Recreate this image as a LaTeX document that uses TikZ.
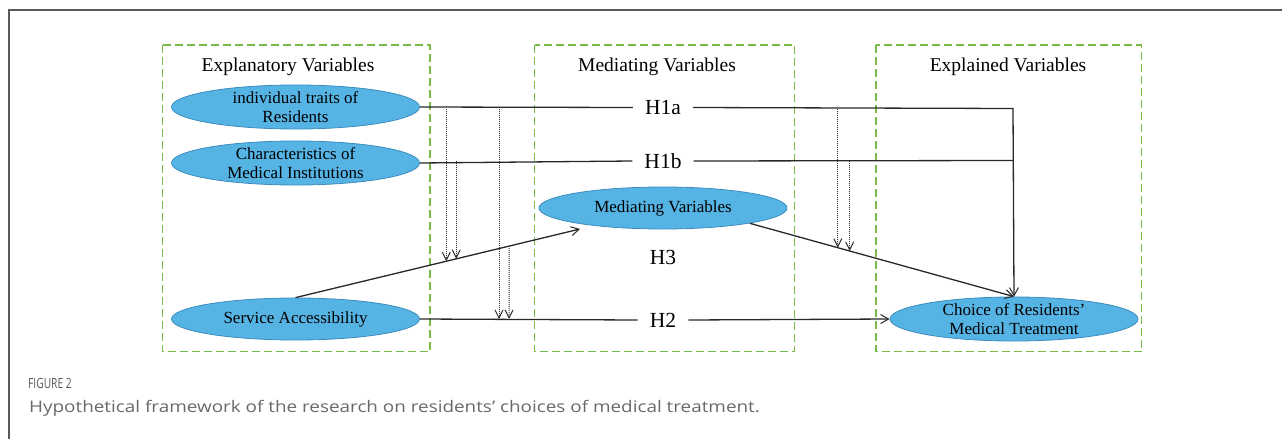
\documentclass[tikz,border=0pt]{standalone}
\usepackage{fontspec}
\setmainfont{Liberation Serif}
\newfontfamily\capfont[FakeStretch=1.18]{Open Sans}
\newfontfamily\figfont[FakeStretch=0.73]{Open Sans}
\usetikzlibrary{shapes.geometric,arrows.meta,calc}
\definecolor{ellfill}{RGB}{86,180,228}
\definecolor{elldraw}{RGB}{60,140,190}
\definecolor{boxgreen}{RGB}{122,186,70}
\definecolor{linegray}{RGB}{40,40,40}
\definecolor{capgray}{RGB}{105,105,105}
\begin{document}
\begin{tikzpicture}[x=1pt,y=-1pt,
  groupbox/.style={draw=boxgreen,line width=1.2pt,dash pattern=on 8pt off 4pt},
  grouptitle/.style={font=\fontsize{19.5}{23}\selectfont,anchor=center},
  ellnode/.style={ellipse,draw=elldraw,line width=0.8pt,fill=ellfill,minimum width=248pt,minimum height=42pt,inner sep=0pt,align=center,font=\fontsize{17}{19}\selectfont},
  hlabel/.style={font=\fontsize{21.5}{24}\selectfont,inner xsep=12pt,inner ysep=2pt},
  conn/.style={draw=linegray,line width=1.3pt},
  arr/.style={conn,-{Straight Barb[length=8pt,width=9pt,line width=1pt]}},
  modarr/.style={draw=gray!35!black,line width=1pt,densely dotted,-{Straight Barb[length=8pt,width=8pt,line width=1pt,sep=0pt]}},
]
\useasboundingbox (0,0) rectangle (1282,439);
% frame
\draw[draw=gray!70!black,line width=1.5pt] (9,439) -- (9,10) -- (1282,10);
% group boxes
\draw[groupbox] (162.5,45) rectangle (430,351.5);
\draw[groupbox] (534.5,45) rectangle (794.5,351.5);
\draw[groupbox] (876,45) rectangle (1141.5,351.5);
\node[grouptitle] (t1) at (288,66.5) {Explanatory Variables};
\node[grouptitle] (t2) at (657,66.5) {Mediating Variables};
\node[grouptitle] (t3) at (1008,66.5) {Explained Variables};
% ellipses
\node[ellnode] (e1) at (295.5,107) {individual traits of\\Residents};
\node[ellnode,minimum height=44pt] (e2) at (295.5,163) {Characteristics of\\Medical Institutions};
\node[ellnode] (e3) at (663,208) {Mediating Variables};
\node[ellnode] (e4) at (295.5,319) {Service Accessibility};
\node[ellnode] (e5) at (1014,319) {Choice of Residents’\\Medical Treatment};
% hypothesis labels
\node[hlabel] (h1a) at (663,107.5) {H1a};
\node[hlabel] (h1b) at (663,161) {H1b};
\node[hlabel] (h3) at (663,257) {H3};
\node[hlabel] (h2) at (663,320) {H2};
% helper coordinates
\coordinate (c1) at (1013,108.5);
\coordinate (c2) at (1013,160.5);
\coordinate (h3tip) at (580,229);
\coordinate (m1) at (e3.-10);
% main connectors
\draw[conn] (e1.east) -- (h1a.west);
\draw[arr] (h1a.east) -- (c1) -- (e5.north);
\draw[conn] (e2.east) -- (h1b.west);
\draw[conn] (h1b.east) -- (c2);
\draw[conn] (e4.east) -- (h2.west);
\draw[arr] (h2.east) -- (e5.west);
\draw[arr] (e4.north) -- (h3tip);
\draw[arr] (m1) -- (e5.north);
% points on lines for moderating arrows
\coordinate (p1) at ($(e4.north)!0.53!(h3tip)$);
\coordinate (p2) at ($(e4.north)!0.565!(h3tip)$);
\coordinate (p3) at ($(e4.north)!0.751!(h3tip)$);
\coordinate (d1) at (499,319);
\coordinate (d2) at (509,319);
\coordinate (r1) at ($(m1)!0.333!(e5.north)$);
\coordinate (r2) at ($(m1)!0.378!(e5.north)$);
% moderating arrows
\draw[modarr] (p1 |- c1) -- (p1);
\draw[modarr] (p2 |- c2) -- (p2);
\draw[modarr] (d1 |- c1) -- (d1);
\draw[modarr] (p3) -- (d2);
\draw[modarr] (r1 |- c1) -- (r1);
\draw[modarr] (r2 |- c2) -- (r2);
% caption
\node[anchor=base west,inner sep=0pt,text=capgray!85!black,font=\figfont\fontsize{14}{16}\selectfont] (cap1) at (28,388) {FIGURE 2};
\node[anchor=base west,inner sep=0pt,text=capgray,font=\capfont\fontsize{16}{19}\selectfont] (cap2) at (29,412) {Hypothetical framework of the research on residents’ choices of medical treatment.};
\end{tikzpicture}
\end{document}
